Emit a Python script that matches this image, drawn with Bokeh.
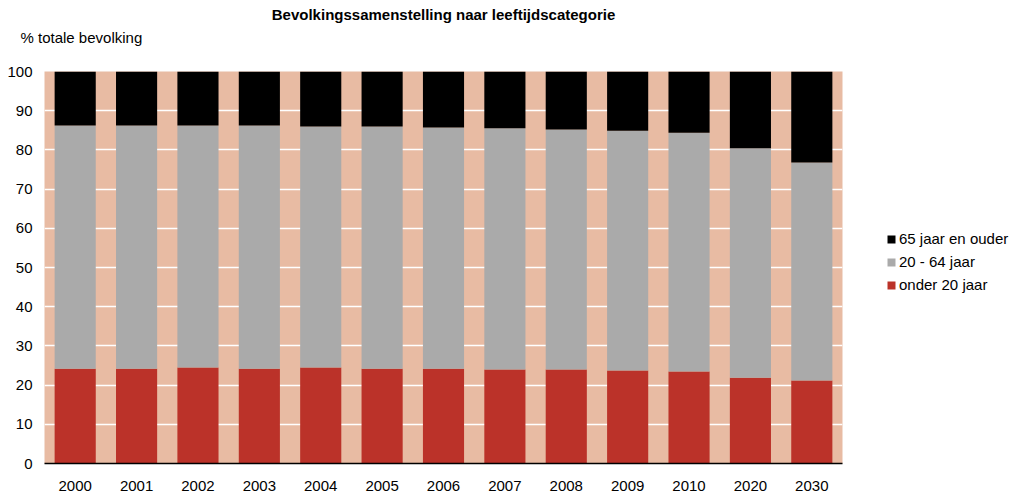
from bokeh.plotting import figure
from bokeh.layouts import row
from bokeh.models import Range1d, FactorRange, Title, Legend, LegendItem, ColumnDataSource
from bokeh.embed import file_html
from bokeh.resources import INLINE

years = ["2000", "2001", "2002", "2003", "2004", "2005", "2006", "2007", "2008", "2009", "2010", "2020", "2030"]
onder20 = [24.2, 24.2, 24.5, 24.2, 24.5, 24.2, 24.2, 24.0, 24.0, 23.7, 23.5, 21.9, 21.2]
jaar20_64 = [62.0, 62.0, 61.7, 62.0, 61.5, 61.8, 61.5, 61.5, 61.2, 61.2, 60.9, 58.5, 55.6]
jaar65plus = [13.8, 13.8, 13.8, 13.8, 14.0, 14.3, 14.6, 14.5, 14.8, 15.1, 15.6, 19.6, 23.5]
series_names = ["onder 20 jaar", "20 - 64 jaar", "65 jaar en ouder"]
yticks = [0, 10, 20, 30, 40, 50, 60, 70, 80, 90, 100]

FONT = "Liberation Sans"
COLORS = ["#BB3229", "#AAAAAA", "#000000"]

src = ColumnDataSource(dict(x=years, a=onder20, b=jaar20_64, c=jaar65plus))

p = figure(width=843, height=494, x_range=FactorRange(*years, range_padding=0),
           y_range=Range1d(0, 100), output_backend="svg", toolbar_location=None,
           min_border_left=44, min_border_right=1, min_border_top=71, min_border_bottom=31)
p.title = None
p.outline_line_color = None
p.background_fill_color = "#E8BBA3"
p.border_fill_color = "white"

rs = p.vbar_stack(["a", "b", "c"], x="x", width=0.67, source=src,
                  color=COLORS, line_color=None)

p.xgrid.grid_line_color = None
p.ygrid.grid_line_color = "white"
p.ygrid.grid_line_width = 1.3
p.ygrid.ticker = yticks

p.yaxis.ticker = yticks
p.yaxis.axis_line_color = None
p.yaxis.major_tick_line_color = None
p.yaxis.minor_tick_line_color = None
p.yaxis.major_tick_out = 0
p.yaxis.major_tick_in = 0
p.yaxis.minor_tick_out = 0
p.yaxis.major_label_standoff = 12
p.yaxis.major_label_text_font = FONT
p.yaxis.major_label_text_font_size = "15px"
p.yaxis.major_label_text_color = "black"

p.xaxis.axis_line_color = "black"
p.xaxis.axis_line_width = 1.5
p.xaxis.major_tick_line_color = None
p.xaxis.minor_tick_line_color = None
p.xaxis.major_tick_out = 0
p.xaxis.major_tick_in = 0
p.xaxis.major_label_standoff = 17
p.xaxis.major_label_text_font = FONT
p.xaxis.major_label_text_font_size = "15px"
p.xaxis.major_label_text_color = "black"

p.add_layout(Title(text="% totale bevolking", align="left", offset=-24, standoff=51,
                   text_font=FONT, text_font_size="15px", text_font_style="normal",
                   text_color="black"), "above")
p.add_layout(Title(text="Bevolkingssamenstelling naar leeftijdscategorie", align="center",
                   standoff=-42, text_font=FONT, text_font_size="15px", text_font_style="bold",
                   text_color="black"), "above")

# legend panel
p2 = figure(width=168, height=494, output_backend="svg", toolbar_location=None,
            x_axis_type=None, y_axis_type=None, min_border=0,
            x_range=Range1d(0, 1), y_range=Range1d(0, 1))
p2.outline_line_color = None
p2.grid.grid_line_color = None
p2.title = None
dummies = [p2.vbar(x=[5], top=[0], width=0.5, color=c, line_color=None) for c in COLORS]

legend = Legend(items=[LegendItem(label=series_names[i], renderers=[dummies[i]]) for i in (2, 1, 0)],
                location=(43, 170), glyph_width=10, glyph_height=10, label_height=16,
                spacing=6, padding=0, margin=0, label_standoff=3,
                border_line_color=None, background_fill_alpha=0,
                label_text_font=FONT, label_text_font_size="15px", label_text_color="black")
p2.add_layout(legend, "center")

layout = row(p, p2, spacing=0)
open("out.html", "w").write(file_html(layout, INLINE))
